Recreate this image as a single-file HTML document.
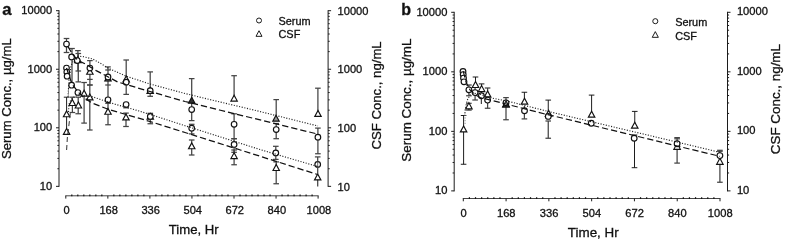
<!DOCTYPE html><html><head><meta charset="utf-8"><title>Figure</title><style>html,body{margin:0;padding:0;background:#fff}svg{display:block}</style></head><body><svg width="785" height="242" viewBox="0 0 785 242" font-family="Liberation Sans, sans-serif" fill="#111">
<rect width="785" height="242" fill="#fff"/>
<line x1="59.00" y1="10.20" x2="59.00" y2="186.85" stroke="#1c1c1c" stroke-width="1" />
<line x1="328.10" y1="10.20" x2="328.10" y2="186.85" stroke="#1c1c1c" stroke-width="1" />
<line x1="56.00" y1="10.70" x2="59.00" y2="10.70" stroke="#1c1c1c" stroke-width="1" />
<line x1="328.10" y1="10.70" x2="331.10" y2="10.70" stroke="#1c1c1c" stroke-width="1" />
<text x="52.20" y="14.30" font-size="11.1" text-anchor="end" font-weight="normal" stroke="#111" stroke-width="0.3" >10000</text>
<text x="337.60" y="14.90" font-size="11.1" text-anchor="start" font-weight="normal" stroke="#111" stroke-width="0.3" >10000</text>
<line x1="57.40" y1="51.62" x2="59.00" y2="51.62" stroke="#1c1c1c" stroke-width="1" />
<line x1="328.10" y1="51.62" x2="329.70" y2="51.62" stroke="#1c1c1c" stroke-width="1" />
<line x1="57.40" y1="41.31" x2="59.00" y2="41.31" stroke="#1c1c1c" stroke-width="1" />
<line x1="328.10" y1="41.31" x2="329.70" y2="41.31" stroke="#1c1c1c" stroke-width="1" />
<line x1="57.40" y1="34.00" x2="59.00" y2="34.00" stroke="#1c1c1c" stroke-width="1" />
<line x1="328.10" y1="34.00" x2="329.70" y2="34.00" stroke="#1c1c1c" stroke-width="1" />
<line x1="57.40" y1="28.33" x2="59.00" y2="28.33" stroke="#1c1c1c" stroke-width="1" />
<line x1="328.10" y1="28.33" x2="329.70" y2="28.33" stroke="#1c1c1c" stroke-width="1" />
<line x1="57.40" y1="23.69" x2="59.00" y2="23.69" stroke="#1c1c1c" stroke-width="1" />
<line x1="328.10" y1="23.69" x2="329.70" y2="23.69" stroke="#1c1c1c" stroke-width="1" />
<line x1="57.40" y1="19.77" x2="59.00" y2="19.77" stroke="#1c1c1c" stroke-width="1" />
<line x1="328.10" y1="19.77" x2="329.70" y2="19.77" stroke="#1c1c1c" stroke-width="1" />
<line x1="57.40" y1="16.37" x2="59.00" y2="16.37" stroke="#1c1c1c" stroke-width="1" />
<line x1="328.10" y1="16.37" x2="329.70" y2="16.37" stroke="#1c1c1c" stroke-width="1" />
<line x1="57.40" y1="13.38" x2="59.00" y2="13.38" stroke="#1c1c1c" stroke-width="1" />
<line x1="328.10" y1="13.38" x2="329.70" y2="13.38" stroke="#1c1c1c" stroke-width="1" />
<line x1="56.00" y1="69.25" x2="59.00" y2="69.25" stroke="#1c1c1c" stroke-width="1" />
<line x1="328.10" y1="69.25" x2="331.10" y2="69.25" stroke="#1c1c1c" stroke-width="1" />
<text x="52.20" y="72.85" font-size="11.1" text-anchor="end" font-weight="normal" stroke="#111" stroke-width="0.3" >1000</text>
<text x="337.60" y="73.45" font-size="11.1" text-anchor="start" font-weight="normal" stroke="#111" stroke-width="0.3" >1000</text>
<line x1="57.40" y1="110.17" x2="59.00" y2="110.17" stroke="#1c1c1c" stroke-width="1" />
<line x1="328.10" y1="110.17" x2="329.70" y2="110.17" stroke="#1c1c1c" stroke-width="1" />
<line x1="57.40" y1="99.86" x2="59.00" y2="99.86" stroke="#1c1c1c" stroke-width="1" />
<line x1="328.10" y1="99.86" x2="329.70" y2="99.86" stroke="#1c1c1c" stroke-width="1" />
<line x1="57.40" y1="92.55" x2="59.00" y2="92.55" stroke="#1c1c1c" stroke-width="1" />
<line x1="328.10" y1="92.55" x2="329.70" y2="92.55" stroke="#1c1c1c" stroke-width="1" />
<line x1="57.40" y1="86.88" x2="59.00" y2="86.88" stroke="#1c1c1c" stroke-width="1" />
<line x1="328.10" y1="86.88" x2="329.70" y2="86.88" stroke="#1c1c1c" stroke-width="1" />
<line x1="57.40" y1="82.24" x2="59.00" y2="82.24" stroke="#1c1c1c" stroke-width="1" />
<line x1="328.10" y1="82.24" x2="329.70" y2="82.24" stroke="#1c1c1c" stroke-width="1" />
<line x1="57.40" y1="78.32" x2="59.00" y2="78.32" stroke="#1c1c1c" stroke-width="1" />
<line x1="328.10" y1="78.32" x2="329.70" y2="78.32" stroke="#1c1c1c" stroke-width="1" />
<line x1="57.40" y1="74.92" x2="59.00" y2="74.92" stroke="#1c1c1c" stroke-width="1" />
<line x1="328.10" y1="74.92" x2="329.70" y2="74.92" stroke="#1c1c1c" stroke-width="1" />
<line x1="57.40" y1="71.93" x2="59.00" y2="71.93" stroke="#1c1c1c" stroke-width="1" />
<line x1="328.10" y1="71.93" x2="329.70" y2="71.93" stroke="#1c1c1c" stroke-width="1" />
<line x1="56.00" y1="127.80" x2="59.00" y2="127.80" stroke="#1c1c1c" stroke-width="1" />
<line x1="328.10" y1="127.80" x2="331.10" y2="127.80" stroke="#1c1c1c" stroke-width="1" />
<text x="52.20" y="131.40" font-size="11.1" text-anchor="end" font-weight="normal" stroke="#111" stroke-width="0.3" >100</text>
<text x="337.60" y="132.00" font-size="11.1" text-anchor="start" font-weight="normal" stroke="#111" stroke-width="0.3" >100</text>
<line x1="57.40" y1="168.72" x2="59.00" y2="168.72" stroke="#1c1c1c" stroke-width="1" />
<line x1="328.10" y1="168.72" x2="329.70" y2="168.72" stroke="#1c1c1c" stroke-width="1" />
<line x1="57.40" y1="158.41" x2="59.00" y2="158.41" stroke="#1c1c1c" stroke-width="1" />
<line x1="328.10" y1="158.41" x2="329.70" y2="158.41" stroke="#1c1c1c" stroke-width="1" />
<line x1="57.40" y1="151.10" x2="59.00" y2="151.10" stroke="#1c1c1c" stroke-width="1" />
<line x1="328.10" y1="151.10" x2="329.70" y2="151.10" stroke="#1c1c1c" stroke-width="1" />
<line x1="57.40" y1="145.43" x2="59.00" y2="145.43" stroke="#1c1c1c" stroke-width="1" />
<line x1="328.10" y1="145.43" x2="329.70" y2="145.43" stroke="#1c1c1c" stroke-width="1" />
<line x1="57.40" y1="140.79" x2="59.00" y2="140.79" stroke="#1c1c1c" stroke-width="1" />
<line x1="328.10" y1="140.79" x2="329.70" y2="140.79" stroke="#1c1c1c" stroke-width="1" />
<line x1="57.40" y1="136.87" x2="59.00" y2="136.87" stroke="#1c1c1c" stroke-width="1" />
<line x1="328.10" y1="136.87" x2="329.70" y2="136.87" stroke="#1c1c1c" stroke-width="1" />
<line x1="57.40" y1="133.47" x2="59.00" y2="133.47" stroke="#1c1c1c" stroke-width="1" />
<line x1="328.10" y1="133.47" x2="329.70" y2="133.47" stroke="#1c1c1c" stroke-width="1" />
<line x1="57.40" y1="130.48" x2="59.00" y2="130.48" stroke="#1c1c1c" stroke-width="1" />
<line x1="328.10" y1="130.48" x2="329.70" y2="130.48" stroke="#1c1c1c" stroke-width="1" />
<line x1="56.00" y1="186.35" x2="59.00" y2="186.35" stroke="#1c1c1c" stroke-width="1" />
<line x1="328.10" y1="186.35" x2="331.10" y2="186.35" stroke="#1c1c1c" stroke-width="1" />
<text x="52.20" y="189.95" font-size="11.1" text-anchor="end" font-weight="normal" stroke="#111" stroke-width="0.3" >10</text>
<text x="337.60" y="190.55" font-size="11.1" text-anchor="start" font-weight="normal" stroke="#111" stroke-width="0.3" >10</text>
<line x1="65.30" y1="195.80" x2="318.60" y2="195.80" stroke="#444" stroke-width="1" />
<line x1="65.80" y1="195.80" x2="65.80" y2="198.60" stroke="#1c1c1c" stroke-width="1" />
<text x="66.60" y="214.40" font-size="11.1" text-anchor="middle" font-weight="normal" stroke="#111" stroke-width="0.3" >0</text>
<line x1="71.81" y1="194.50" x2="71.81" y2="196.30" stroke="#111" stroke-width="1.2" />
<line x1="77.81" y1="194.50" x2="77.81" y2="196.30" stroke="#111" stroke-width="1.2" />
<line x1="83.82" y1="194.50" x2="83.82" y2="196.30" stroke="#111" stroke-width="1.2" />
<line x1="89.83" y1="194.50" x2="89.83" y2="196.30" stroke="#111" stroke-width="1.2" />
<line x1="95.84" y1="194.50" x2="95.84" y2="196.30" stroke="#111" stroke-width="1.2" />
<line x1="101.84" y1="194.50" x2="101.84" y2="196.30" stroke="#111" stroke-width="1.2" />
<line x1="107.85" y1="195.80" x2="107.85" y2="198.60" stroke="#1c1c1c" stroke-width="1" />
<text x="108.65" y="214.40" font-size="11.1" text-anchor="middle" font-weight="normal" stroke="#111" stroke-width="0.3" >168</text>
<line x1="113.86" y1="194.50" x2="113.86" y2="196.30" stroke="#111" stroke-width="1.2" />
<line x1="119.86" y1="194.50" x2="119.86" y2="196.30" stroke="#111" stroke-width="1.2" />
<line x1="125.87" y1="194.50" x2="125.87" y2="196.30" stroke="#111" stroke-width="1.2" />
<line x1="131.88" y1="194.50" x2="131.88" y2="196.30" stroke="#111" stroke-width="1.2" />
<line x1="137.89" y1="194.50" x2="137.89" y2="196.30" stroke="#111" stroke-width="1.2" />
<line x1="143.89" y1="194.50" x2="143.89" y2="196.30" stroke="#111" stroke-width="1.2" />
<line x1="149.90" y1="195.80" x2="149.90" y2="198.60" stroke="#1c1c1c" stroke-width="1" />
<text x="150.70" y="214.40" font-size="11.1" text-anchor="middle" font-weight="normal" stroke="#111" stroke-width="0.3" >336</text>
<line x1="155.91" y1="194.50" x2="155.91" y2="196.30" stroke="#111" stroke-width="1.2" />
<line x1="161.91" y1="194.50" x2="161.91" y2="196.30" stroke="#111" stroke-width="1.2" />
<line x1="167.92" y1="194.50" x2="167.92" y2="196.30" stroke="#111" stroke-width="1.2" />
<line x1="173.93" y1="194.50" x2="173.93" y2="196.30" stroke="#111" stroke-width="1.2" />
<line x1="179.94" y1="194.50" x2="179.94" y2="196.30" stroke="#111" stroke-width="1.2" />
<line x1="185.94" y1="194.50" x2="185.94" y2="196.30" stroke="#111" stroke-width="1.2" />
<line x1="191.95" y1="195.80" x2="191.95" y2="198.60" stroke="#1c1c1c" stroke-width="1" />
<text x="192.75" y="214.40" font-size="11.1" text-anchor="middle" font-weight="normal" stroke="#111" stroke-width="0.3" >504</text>
<line x1="197.96" y1="194.50" x2="197.96" y2="196.30" stroke="#111" stroke-width="1.2" />
<line x1="203.96" y1="194.50" x2="203.96" y2="196.30" stroke="#111" stroke-width="1.2" />
<line x1="209.97" y1="194.50" x2="209.97" y2="196.30" stroke="#111" stroke-width="1.2" />
<line x1="215.98" y1="194.50" x2="215.98" y2="196.30" stroke="#111" stroke-width="1.2" />
<line x1="221.99" y1="194.50" x2="221.99" y2="196.30" stroke="#111" stroke-width="1.2" />
<line x1="227.99" y1="194.50" x2="227.99" y2="196.30" stroke="#111" stroke-width="1.2" />
<line x1="234.00" y1="195.80" x2="234.00" y2="198.60" stroke="#1c1c1c" stroke-width="1" />
<text x="234.80" y="214.40" font-size="11.1" text-anchor="middle" font-weight="normal" stroke="#111" stroke-width="0.3" >672</text>
<line x1="240.01" y1="194.50" x2="240.01" y2="196.30" stroke="#111" stroke-width="1.2" />
<line x1="246.01" y1="194.50" x2="246.01" y2="196.30" stroke="#111" stroke-width="1.2" />
<line x1="252.02" y1="194.50" x2="252.02" y2="196.30" stroke="#111" stroke-width="1.2" />
<line x1="258.03" y1="194.50" x2="258.03" y2="196.30" stroke="#111" stroke-width="1.2" />
<line x1="264.04" y1="194.50" x2="264.04" y2="196.30" stroke="#111" stroke-width="1.2" />
<line x1="270.04" y1="194.50" x2="270.04" y2="196.30" stroke="#111" stroke-width="1.2" />
<line x1="276.05" y1="195.80" x2="276.05" y2="198.60" stroke="#1c1c1c" stroke-width="1" />
<text x="276.85" y="214.40" font-size="11.1" text-anchor="middle" font-weight="normal" stroke="#111" stroke-width="0.3" >840</text>
<line x1="282.06" y1="194.50" x2="282.06" y2="196.30" stroke="#111" stroke-width="1.2" />
<line x1="288.06" y1="194.50" x2="288.06" y2="196.30" stroke="#111" stroke-width="1.2" />
<line x1="294.07" y1="194.50" x2="294.07" y2="196.30" stroke="#111" stroke-width="1.2" />
<line x1="300.08" y1="194.50" x2="300.08" y2="196.30" stroke="#111" stroke-width="1.2" />
<line x1="306.09" y1="194.50" x2="306.09" y2="196.30" stroke="#111" stroke-width="1.2" />
<line x1="312.09" y1="194.50" x2="312.09" y2="196.30" stroke="#111" stroke-width="1.2" />
<line x1="318.10" y1="195.80" x2="318.10" y2="198.60" stroke="#1c1c1c" stroke-width="1" />
<text x="318.90" y="214.40" font-size="11.1" text-anchor="middle" font-weight="normal" stroke="#111" stroke-width="0.3" >1008</text>
<text x="193.75" y="233.60" font-size="13.15" text-anchor="middle" font-weight="normal" stroke="#111" stroke-width="0.3" >Time, Hr</text>
<text x="11.40" y="98.70" font-size="13.15" text-anchor="middle" font-weight="normal" stroke="#111" stroke-width="0.3" transform="rotate(-90 11.40 98.70)" >Serum Conc., µg/mL</text>
<text x="381.30" y="95.40" font-size="13.15" text-anchor="middle" font-weight="normal" stroke="#111" stroke-width="0.3" transform="rotate(-90 381.30 95.40)" >CSF Conc., ng/mL</text>
<text x="2.20" y="14.70" font-size="16.7" text-anchor="start" font-weight="bold" stroke="#111" stroke-width="0.3" >a</text>
<circle cx="259.00" cy="20.50" r="2.5" fill="#fff" stroke="#111" stroke-width="0.95"/>
<polygon points="259.00,30.74 256.00,36.34 262.00,36.34" fill="#fff" stroke="#111" stroke-width="0.95" stroke-linejoin="miter"/>
<text x="278.50" y="24.50" font-size="10.9" text-anchor="start" font-weight="normal" stroke="#111" stroke-width="0.3" >Serum</text>
<text x="278.50" y="38.00" font-size="10.9" text-anchor="start" font-weight="normal" stroke="#111" stroke-width="0.3" >CSF</text>
<line x1="454.20" y1="11.80" x2="454.20" y2="191.39" stroke="#1c1c1c" stroke-width="1" />
<line x1="727.50" y1="11.80" x2="727.50" y2="191.39" stroke="#1c1c1c" stroke-width="1" />
<line x1="451.20" y1="12.30" x2="454.20" y2="12.30" stroke="#1c1c1c" stroke-width="1" />
<line x1="727.50" y1="12.30" x2="730.50" y2="12.30" stroke="#1c1c1c" stroke-width="1" />
<text x="447.40" y="15.90" font-size="11.15" text-anchor="end" font-weight="normal" stroke="#111" stroke-width="0.3" >10000</text>
<text x="736.90" y="15.40" font-size="11.15" text-anchor="start" font-weight="normal" stroke="#111" stroke-width="0.3" >10000</text>
<line x1="452.60" y1="53.91" x2="454.20" y2="53.91" stroke="#1c1c1c" stroke-width="1" />
<line x1="727.50" y1="53.91" x2="729.10" y2="53.91" stroke="#1c1c1c" stroke-width="1" />
<line x1="452.60" y1="43.43" x2="454.20" y2="43.43" stroke="#1c1c1c" stroke-width="1" />
<line x1="727.50" y1="43.43" x2="729.10" y2="43.43" stroke="#1c1c1c" stroke-width="1" />
<line x1="452.60" y1="35.99" x2="454.20" y2="35.99" stroke="#1c1c1c" stroke-width="1" />
<line x1="727.50" y1="35.99" x2="729.10" y2="35.99" stroke="#1c1c1c" stroke-width="1" />
<line x1="452.60" y1="30.22" x2="454.20" y2="30.22" stroke="#1c1c1c" stroke-width="1" />
<line x1="727.50" y1="30.22" x2="729.10" y2="30.22" stroke="#1c1c1c" stroke-width="1" />
<line x1="452.60" y1="25.51" x2="454.20" y2="25.51" stroke="#1c1c1c" stroke-width="1" />
<line x1="727.50" y1="25.51" x2="729.10" y2="25.51" stroke="#1c1c1c" stroke-width="1" />
<line x1="452.60" y1="21.52" x2="454.20" y2="21.52" stroke="#1c1c1c" stroke-width="1" />
<line x1="727.50" y1="21.52" x2="729.10" y2="21.52" stroke="#1c1c1c" stroke-width="1" />
<line x1="452.60" y1="18.07" x2="454.20" y2="18.07" stroke="#1c1c1c" stroke-width="1" />
<line x1="727.50" y1="18.07" x2="729.10" y2="18.07" stroke="#1c1c1c" stroke-width="1" />
<line x1="452.60" y1="15.02" x2="454.20" y2="15.02" stroke="#1c1c1c" stroke-width="1" />
<line x1="727.50" y1="15.02" x2="729.10" y2="15.02" stroke="#1c1c1c" stroke-width="1" />
<line x1="451.20" y1="71.83" x2="454.20" y2="71.83" stroke="#1c1c1c" stroke-width="1" />
<line x1="727.50" y1="71.83" x2="730.50" y2="71.83" stroke="#1c1c1c" stroke-width="1" />
<text x="447.40" y="75.43" font-size="11.15" text-anchor="end" font-weight="normal" stroke="#111" stroke-width="0.3" >1000</text>
<text x="736.90" y="74.93" font-size="11.15" text-anchor="start" font-weight="normal" stroke="#111" stroke-width="0.3" >1000</text>
<line x1="452.60" y1="113.44" x2="454.20" y2="113.44" stroke="#1c1c1c" stroke-width="1" />
<line x1="727.50" y1="113.44" x2="729.10" y2="113.44" stroke="#1c1c1c" stroke-width="1" />
<line x1="452.60" y1="102.96" x2="454.20" y2="102.96" stroke="#1c1c1c" stroke-width="1" />
<line x1="727.50" y1="102.96" x2="729.10" y2="102.96" stroke="#1c1c1c" stroke-width="1" />
<line x1="452.60" y1="95.52" x2="454.20" y2="95.52" stroke="#1c1c1c" stroke-width="1" />
<line x1="727.50" y1="95.52" x2="729.10" y2="95.52" stroke="#1c1c1c" stroke-width="1" />
<line x1="452.60" y1="89.75" x2="454.20" y2="89.75" stroke="#1c1c1c" stroke-width="1" />
<line x1="727.50" y1="89.75" x2="729.10" y2="89.75" stroke="#1c1c1c" stroke-width="1" />
<line x1="452.60" y1="85.04" x2="454.20" y2="85.04" stroke="#1c1c1c" stroke-width="1" />
<line x1="727.50" y1="85.04" x2="729.10" y2="85.04" stroke="#1c1c1c" stroke-width="1" />
<line x1="452.60" y1="81.05" x2="454.20" y2="81.05" stroke="#1c1c1c" stroke-width="1" />
<line x1="727.50" y1="81.05" x2="729.10" y2="81.05" stroke="#1c1c1c" stroke-width="1" />
<line x1="452.60" y1="77.60" x2="454.20" y2="77.60" stroke="#1c1c1c" stroke-width="1" />
<line x1="727.50" y1="77.60" x2="729.10" y2="77.60" stroke="#1c1c1c" stroke-width="1" />
<line x1="452.60" y1="74.55" x2="454.20" y2="74.55" stroke="#1c1c1c" stroke-width="1" />
<line x1="727.50" y1="74.55" x2="729.10" y2="74.55" stroke="#1c1c1c" stroke-width="1" />
<line x1="451.20" y1="131.36" x2="454.20" y2="131.36" stroke="#1c1c1c" stroke-width="1" />
<line x1="727.50" y1="131.36" x2="730.50" y2="131.36" stroke="#1c1c1c" stroke-width="1" />
<text x="447.40" y="134.96" font-size="11.15" text-anchor="end" font-weight="normal" stroke="#111" stroke-width="0.3" >100</text>
<text x="736.90" y="134.46" font-size="11.15" text-anchor="start" font-weight="normal" stroke="#111" stroke-width="0.3" >100</text>
<line x1="452.60" y1="172.97" x2="454.20" y2="172.97" stroke="#1c1c1c" stroke-width="1" />
<line x1="727.50" y1="172.97" x2="729.10" y2="172.97" stroke="#1c1c1c" stroke-width="1" />
<line x1="452.60" y1="162.49" x2="454.20" y2="162.49" stroke="#1c1c1c" stroke-width="1" />
<line x1="727.50" y1="162.49" x2="729.10" y2="162.49" stroke="#1c1c1c" stroke-width="1" />
<line x1="452.60" y1="155.05" x2="454.20" y2="155.05" stroke="#1c1c1c" stroke-width="1" />
<line x1="727.50" y1="155.05" x2="729.10" y2="155.05" stroke="#1c1c1c" stroke-width="1" />
<line x1="452.60" y1="149.28" x2="454.20" y2="149.28" stroke="#1c1c1c" stroke-width="1" />
<line x1="727.50" y1="149.28" x2="729.10" y2="149.28" stroke="#1c1c1c" stroke-width="1" />
<line x1="452.60" y1="144.57" x2="454.20" y2="144.57" stroke="#1c1c1c" stroke-width="1" />
<line x1="727.50" y1="144.57" x2="729.10" y2="144.57" stroke="#1c1c1c" stroke-width="1" />
<line x1="452.60" y1="140.58" x2="454.20" y2="140.58" stroke="#1c1c1c" stroke-width="1" />
<line x1="727.50" y1="140.58" x2="729.10" y2="140.58" stroke="#1c1c1c" stroke-width="1" />
<line x1="452.60" y1="137.13" x2="454.20" y2="137.13" stroke="#1c1c1c" stroke-width="1" />
<line x1="727.50" y1="137.13" x2="729.10" y2="137.13" stroke="#1c1c1c" stroke-width="1" />
<line x1="452.60" y1="134.08" x2="454.20" y2="134.08" stroke="#1c1c1c" stroke-width="1" />
<line x1="727.50" y1="134.08" x2="729.10" y2="134.08" stroke="#1c1c1c" stroke-width="1" />
<line x1="451.20" y1="190.89" x2="454.20" y2="190.89" stroke="#1c1c1c" stroke-width="1" />
<line x1="727.50" y1="190.89" x2="730.50" y2="190.89" stroke="#1c1c1c" stroke-width="1" />
<text x="447.40" y="194.49" font-size="11.15" text-anchor="end" font-weight="normal" stroke="#111" stroke-width="0.3" >10</text>
<text x="736.90" y="193.99" font-size="11.15" text-anchor="start" font-weight="normal" stroke="#111" stroke-width="0.3" >10</text>
<line x1="462.80" y1="198.50" x2="720.50" y2="198.50" stroke="#444" stroke-width="1" />
<line x1="463.30" y1="198.50" x2="463.30" y2="201.30" stroke="#1c1c1c" stroke-width="1" />
<text x="463.50" y="216.90" font-size="11.15" text-anchor="middle" font-weight="normal" stroke="#111" stroke-width="0.3" >0</text>
<line x1="469.41" y1="197.20" x2="469.41" y2="199.00" stroke="#111" stroke-width="1.2" />
<line x1="475.52" y1="197.20" x2="475.52" y2="199.00" stroke="#111" stroke-width="1.2" />
<line x1="481.64" y1="197.20" x2="481.64" y2="199.00" stroke="#111" stroke-width="1.2" />
<line x1="487.75" y1="197.20" x2="487.75" y2="199.00" stroke="#111" stroke-width="1.2" />
<line x1="493.86" y1="197.20" x2="493.86" y2="199.00" stroke="#111" stroke-width="1.2" />
<line x1="499.97" y1="197.20" x2="499.97" y2="199.00" stroke="#111" stroke-width="1.2" />
<line x1="506.08" y1="198.50" x2="506.08" y2="201.30" stroke="#1c1c1c" stroke-width="1" />
<text x="506.28" y="216.90" font-size="11.15" text-anchor="middle" font-weight="normal" stroke="#111" stroke-width="0.3" >168</text>
<line x1="512.20" y1="197.20" x2="512.20" y2="199.00" stroke="#111" stroke-width="1.2" />
<line x1="518.31" y1="197.20" x2="518.31" y2="199.00" stroke="#111" stroke-width="1.2" />
<line x1="524.42" y1="197.20" x2="524.42" y2="199.00" stroke="#111" stroke-width="1.2" />
<line x1="530.53" y1="197.20" x2="530.53" y2="199.00" stroke="#111" stroke-width="1.2" />
<line x1="536.64" y1="197.20" x2="536.64" y2="199.00" stroke="#111" stroke-width="1.2" />
<line x1="542.75" y1="197.20" x2="542.75" y2="199.00" stroke="#111" stroke-width="1.2" />
<line x1="548.87" y1="198.50" x2="548.87" y2="201.30" stroke="#1c1c1c" stroke-width="1" />
<text x="549.07" y="216.90" font-size="11.15" text-anchor="middle" font-weight="normal" stroke="#111" stroke-width="0.3" >336</text>
<line x1="554.98" y1="197.20" x2="554.98" y2="199.00" stroke="#111" stroke-width="1.2" />
<line x1="561.09" y1="197.20" x2="561.09" y2="199.00" stroke="#111" stroke-width="1.2" />
<line x1="567.20" y1="197.20" x2="567.20" y2="199.00" stroke="#111" stroke-width="1.2" />
<line x1="573.31" y1="197.20" x2="573.31" y2="199.00" stroke="#111" stroke-width="1.2" />
<line x1="579.43" y1="197.20" x2="579.43" y2="199.00" stroke="#111" stroke-width="1.2" />
<line x1="585.54" y1="197.20" x2="585.54" y2="199.00" stroke="#111" stroke-width="1.2" />
<line x1="591.65" y1="198.50" x2="591.65" y2="201.30" stroke="#1c1c1c" stroke-width="1" />
<text x="591.85" y="216.90" font-size="11.15" text-anchor="middle" font-weight="normal" stroke="#111" stroke-width="0.3" >504</text>
<line x1="597.76" y1="197.20" x2="597.76" y2="199.00" stroke="#111" stroke-width="1.2" />
<line x1="603.87" y1="197.20" x2="603.87" y2="199.00" stroke="#111" stroke-width="1.2" />
<line x1="609.99" y1="197.20" x2="609.99" y2="199.00" stroke="#111" stroke-width="1.2" />
<line x1="616.10" y1="197.20" x2="616.10" y2="199.00" stroke="#111" stroke-width="1.2" />
<line x1="622.21" y1="197.20" x2="622.21" y2="199.00" stroke="#111" stroke-width="1.2" />
<line x1="628.32" y1="197.20" x2="628.32" y2="199.00" stroke="#111" stroke-width="1.2" />
<line x1="634.43" y1="198.50" x2="634.43" y2="201.30" stroke="#1c1c1c" stroke-width="1" />
<text x="634.63" y="216.90" font-size="11.15" text-anchor="middle" font-weight="normal" stroke="#111" stroke-width="0.3" >672</text>
<line x1="640.55" y1="197.20" x2="640.55" y2="199.00" stroke="#111" stroke-width="1.2" />
<line x1="646.66" y1="197.20" x2="646.66" y2="199.00" stroke="#111" stroke-width="1.2" />
<line x1="652.77" y1="197.20" x2="652.77" y2="199.00" stroke="#111" stroke-width="1.2" />
<line x1="658.88" y1="197.20" x2="658.88" y2="199.00" stroke="#111" stroke-width="1.2" />
<line x1="664.99" y1="197.20" x2="664.99" y2="199.00" stroke="#111" stroke-width="1.2" />
<line x1="671.10" y1="197.20" x2="671.10" y2="199.00" stroke="#111" stroke-width="1.2" />
<line x1="677.22" y1="198.50" x2="677.22" y2="201.30" stroke="#1c1c1c" stroke-width="1" />
<text x="677.42" y="216.90" font-size="11.15" text-anchor="middle" font-weight="normal" stroke="#111" stroke-width="0.3" >840</text>
<line x1="683.33" y1="197.20" x2="683.33" y2="199.00" stroke="#111" stroke-width="1.2" />
<line x1="689.44" y1="197.20" x2="689.44" y2="199.00" stroke="#111" stroke-width="1.2" />
<line x1="695.55" y1="197.20" x2="695.55" y2="199.00" stroke="#111" stroke-width="1.2" />
<line x1="701.66" y1="197.20" x2="701.66" y2="199.00" stroke="#111" stroke-width="1.2" />
<line x1="707.78" y1="197.20" x2="707.78" y2="199.00" stroke="#111" stroke-width="1.2" />
<line x1="713.89" y1="197.20" x2="713.89" y2="199.00" stroke="#111" stroke-width="1.2" />
<line x1="720.00" y1="198.50" x2="720.00" y2="201.30" stroke="#1c1c1c" stroke-width="1" />
<text x="720.20" y="216.90" font-size="11.15" text-anchor="middle" font-weight="normal" stroke="#111" stroke-width="0.3" >1008</text>
<text x="593.25" y="237.20" font-size="13.4" text-anchor="middle" font-weight="normal" stroke="#111" stroke-width="0.3" >Time, Hr</text>
<text x="411.20" y="100.10" font-size="13.4" text-anchor="middle" font-weight="normal" stroke="#111" stroke-width="0.3" transform="rotate(-90 411.20 100.10)" >Serum Conc., µg/mL</text>
<text x="779.60" y="99.10" font-size="13.4" text-anchor="middle" font-weight="normal" stroke="#111" stroke-width="0.3" transform="rotate(-90 779.60 99.10)" >CSF Conc., ng/mL</text>
<text x="401.30" y="14.60" font-size="16.0" text-anchor="start" font-weight="bold" stroke="#111" stroke-width="0.3" >b</text>
<circle cx="655.30" cy="21.20" r="2.545" fill="#fff" stroke="#111" stroke-width="0.95"/>
<polygon points="655.30,31.62 652.25,37.33 658.35,37.33" fill="#fff" stroke="#111" stroke-width="0.95" stroke-linejoin="miter"/>
<text x="675.15" y="25.77" font-size="10.9" text-anchor="start" font-weight="normal" stroke="#111" stroke-width="0.3" >Serum</text>
<text x="675.15" y="39.52" font-size="10.9" text-anchor="start" font-weight="normal" stroke="#111" stroke-width="0.3" >CSF</text>
<line x1="66.50" y1="38.50" x2="66.50" y2="52.50" stroke="#444" stroke-width="1.25" />
<line x1="63.70" y1="38.50" x2="69.30" y2="38.50" stroke="#444" stroke-width="1.25" />
<line x1="63.70" y1="52.50" x2="69.30" y2="52.50" stroke="#444" stroke-width="1.25" />
<line x1="72.00" y1="48.50" x2="72.00" y2="85.00" stroke="#444" stroke-width="1.25" />
<line x1="69.20" y1="48.50" x2="74.80" y2="48.50" stroke="#444" stroke-width="1.25" />
<line x1="69.20" y1="85.00" x2="74.80" y2="85.00" stroke="#444" stroke-width="1.25" />
<line x1="77.90" y1="50.60" x2="77.90" y2="71.00" stroke="#444" stroke-width="1.25" />
<line x1="75.10" y1="50.60" x2="80.70" y2="50.60" stroke="#444" stroke-width="1.25" />
<line x1="78.30" y1="53.50" x2="78.30" y2="81.90" stroke="#444" stroke-width="1.25" />
<line x1="75.50" y1="53.50" x2="81.10" y2="53.50" stroke="#444" stroke-width="1.25" />
<line x1="75.50" y1="81.90" x2="81.10" y2="81.90" stroke="#444" stroke-width="1.25" />
<line x1="78.30" y1="71.00" x2="78.30" y2="71.00" stroke="#444" stroke-width="1.25" />
<line x1="75.50" y1="71.00" x2="81.10" y2="71.00" stroke="#444" stroke-width="1.25" />
<line x1="89.90" y1="60.60" x2="89.90" y2="85.00" stroke="#444" stroke-width="1.25" />
<line x1="87.10" y1="60.60" x2="92.70" y2="60.60" stroke="#444" stroke-width="1.25" />
<line x1="87.10" y1="85.00" x2="92.70" y2="85.00" stroke="#444" stroke-width="1.25" />
<line x1="89.90" y1="79.40" x2="89.90" y2="79.40" stroke="#444" stroke-width="1.25" />
<line x1="87.10" y1="79.40" x2="92.70" y2="79.40" stroke="#444" stroke-width="1.25" />
<line x1="108.00" y1="66.90" x2="108.00" y2="85.00" stroke="#444" stroke-width="1.25" />
<line x1="105.20" y1="66.90" x2="110.80" y2="66.90" stroke="#444" stroke-width="1.25" />
<line x1="105.20" y1="85.00" x2="110.80" y2="85.00" stroke="#444" stroke-width="1.25" />
<line x1="108.00" y1="70.00" x2="108.00" y2="70.00" stroke="#444" stroke-width="1.25" />
<line x1="105.20" y1="70.00" x2="110.80" y2="70.00" stroke="#444" stroke-width="1.25" />
<line x1="108.00" y1="80.60" x2="108.00" y2="80.60" stroke="#444" stroke-width="1.25" />
<line x1="105.20" y1="80.60" x2="110.80" y2="80.60" stroke="#444" stroke-width="1.25" />
<line x1="126.20" y1="60.00" x2="126.20" y2="94.40" stroke="#444" stroke-width="1.25" />
<line x1="123.40" y1="60.00" x2="129.00" y2="60.00" stroke="#444" stroke-width="1.25" />
<line x1="123.40" y1="94.40" x2="129.00" y2="94.40" stroke="#444" stroke-width="1.25" />
<line x1="150.20" y1="71.90" x2="150.20" y2="96.30" stroke="#444" stroke-width="1.25" />
<line x1="147.40" y1="71.90" x2="153.00" y2="71.90" stroke="#444" stroke-width="1.25" />
<line x1="147.40" y1="96.30" x2="153.00" y2="96.30" stroke="#444" stroke-width="1.25" />
<line x1="191.70" y1="78.60" x2="191.70" y2="120.60" stroke="#444" stroke-width="1.25" />
<line x1="188.90" y1="78.60" x2="194.50" y2="78.60" stroke="#444" stroke-width="1.25" />
<line x1="188.90" y1="120.60" x2="194.50" y2="120.60" stroke="#444" stroke-width="1.25" />
<line x1="234.10" y1="75.70" x2="234.10" y2="98.70" stroke="#444" stroke-width="1.25" />
<line x1="231.30" y1="75.70" x2="236.90" y2="75.70" stroke="#444" stroke-width="1.25" />
<line x1="234.10" y1="113.80" x2="234.10" y2="138.70" stroke="#444" stroke-width="1.25" />
<line x1="231.30" y1="113.80" x2="236.90" y2="113.80" stroke="#444" stroke-width="1.25" />
<line x1="231.30" y1="138.70" x2="236.90" y2="138.70" stroke="#444" stroke-width="1.25" />
<line x1="276.20" y1="99.60" x2="276.20" y2="118.00" stroke="#444" stroke-width="1.25" />
<line x1="273.40" y1="99.60" x2="279.00" y2="99.60" stroke="#444" stroke-width="1.25" />
<line x1="276.20" y1="123.50" x2="276.20" y2="138.70" stroke="#444" stroke-width="1.25" />
<line x1="273.40" y1="123.50" x2="279.00" y2="123.50" stroke="#444" stroke-width="1.25" />
<line x1="273.40" y1="138.70" x2="279.00" y2="138.70" stroke="#444" stroke-width="1.25" />
<line x1="317.90" y1="88.20" x2="317.90" y2="113.00" stroke="#444" stroke-width="1.25" />
<line x1="315.10" y1="88.20" x2="320.70" y2="88.20" stroke="#444" stroke-width="1.25" />
<line x1="317.90" y1="128.10" x2="317.90" y2="153.75" stroke="#444" stroke-width="1.25" />
<line x1="315.10" y1="128.10" x2="320.70" y2="128.10" stroke="#444" stroke-width="1.25" />
<line x1="315.10" y1="153.75" x2="320.70" y2="153.75" stroke="#444" stroke-width="1.25" />
<line x1="66.60" y1="97.20" x2="66.60" y2="132.00" stroke="#111" stroke-width="0.95" />
<line x1="63.80" y1="97.20" x2="69.40" y2="97.20" stroke="#111" stroke-width="0.95" />
<line x1="72.40" y1="97.20" x2="72.40" y2="112.50" stroke="#444" stroke-width="1.25" />
<line x1="69.60" y1="97.20" x2="75.20" y2="97.20" stroke="#444" stroke-width="1.25" />
<line x1="69.60" y1="112.50" x2="75.20" y2="112.50" stroke="#444" stroke-width="1.25" />
<line x1="78.20" y1="97.20" x2="78.20" y2="113.75" stroke="#444" stroke-width="1.25" />
<line x1="75.40" y1="97.20" x2="81.00" y2="97.20" stroke="#444" stroke-width="1.25" />
<line x1="75.40" y1="113.75" x2="81.00" y2="113.75" stroke="#444" stroke-width="1.25" />
<line x1="84.10" y1="82.50" x2="84.10" y2="123.10" stroke="#444" stroke-width="1.25" />
<line x1="81.30" y1="82.50" x2="86.90" y2="82.50" stroke="#444" stroke-width="1.25" />
<line x1="81.30" y1="123.10" x2="86.90" y2="123.10" stroke="#444" stroke-width="1.25" />
<line x1="89.80" y1="85.00" x2="89.80" y2="130.00" stroke="#444" stroke-width="1.25" />
<line x1="87.00" y1="85.00" x2="92.60" y2="85.00" stroke="#444" stroke-width="1.25" />
<line x1="87.00" y1="130.00" x2="92.60" y2="130.00" stroke="#444" stroke-width="1.25" />
<line x1="108.00" y1="85.00" x2="108.00" y2="97.00" stroke="#444" stroke-width="1.25" />
<line x1="108.00" y1="103.30" x2="108.00" y2="124.75" stroke="#444" stroke-width="1.25" />
<line x1="105.20" y1="103.30" x2="110.80" y2="103.30" stroke="#444" stroke-width="1.25" />
<line x1="105.20" y1="124.75" x2="110.80" y2="124.75" stroke="#444" stroke-width="1.25" />
<line x1="126.00" y1="105.00" x2="126.00" y2="107.80" stroke="#444" stroke-width="1.25" />
<line x1="123.20" y1="107.80" x2="128.80" y2="107.80" stroke="#444" stroke-width="1.25" />
<line x1="126.00" y1="113.10" x2="126.00" y2="126.50" stroke="#444" stroke-width="1.25" />
<line x1="123.20" y1="113.10" x2="128.80" y2="113.10" stroke="#444" stroke-width="1.25" />
<line x1="123.20" y1="126.50" x2="128.80" y2="126.50" stroke="#444" stroke-width="1.25" />
<line x1="150.30" y1="113.30" x2="150.30" y2="123.75" stroke="#444" stroke-width="1.25" />
<line x1="147.50" y1="113.30" x2="153.10" y2="113.30" stroke="#444" stroke-width="1.25" />
<line x1="147.50" y1="123.75" x2="153.10" y2="123.75" stroke="#444" stroke-width="1.25" />
<line x1="191.70" y1="124.30" x2="191.70" y2="133.90" stroke="#444" stroke-width="1.25" />
<line x1="188.90" y1="124.30" x2="194.50" y2="124.30" stroke="#444" stroke-width="1.25" />
<line x1="188.90" y1="133.90" x2="194.50" y2="133.90" stroke="#444" stroke-width="1.25" />
<line x1="191.70" y1="140.00" x2="191.70" y2="155.00" stroke="#444" stroke-width="1.25" />
<line x1="188.90" y1="140.00" x2="194.50" y2="140.00" stroke="#444" stroke-width="1.25" />
<line x1="188.90" y1="155.00" x2="194.50" y2="155.00" stroke="#444" stroke-width="1.25" />
<line x1="234.10" y1="138.70" x2="234.10" y2="164.75" stroke="#444" stroke-width="1.25" />
<line x1="231.30" y1="138.70" x2="236.90" y2="138.70" stroke="#444" stroke-width="1.25" />
<line x1="231.30" y1="164.75" x2="236.90" y2="164.75" stroke="#444" stroke-width="1.25" />
<line x1="234.10" y1="150.00" x2="234.10" y2="152.30" stroke="#444" stroke-width="1.25" />
<line x1="231.30" y1="150.00" x2="236.90" y2="150.00" stroke="#444" stroke-width="1.25" />
<line x1="231.30" y1="152.30" x2="236.90" y2="152.30" stroke="#444" stroke-width="1.25" />
<line x1="275.80" y1="146.30" x2="275.80" y2="159.40" stroke="#444" stroke-width="1.25" />
<line x1="273.00" y1="146.30" x2="278.60" y2="146.30" stroke="#444" stroke-width="1.25" />
<line x1="273.00" y1="159.40" x2="278.60" y2="159.40" stroke="#444" stroke-width="1.25" />
<line x1="276.20" y1="161.90" x2="276.20" y2="183.75" stroke="#444" stroke-width="1.25" />
<line x1="273.40" y1="161.90" x2="279.00" y2="161.90" stroke="#444" stroke-width="1.25" />
<line x1="273.40" y1="183.75" x2="279.00" y2="183.75" stroke="#444" stroke-width="1.25" />
<line x1="317.70" y1="156.90" x2="317.70" y2="164.00" stroke="#444" stroke-width="1.25" />
<line x1="314.90" y1="156.90" x2="320.50" y2="156.90" stroke="#444" stroke-width="1.25" />
<line x1="314.90" y1="164.00" x2="320.50" y2="164.00" stroke="#444" stroke-width="1.25" />
<line x1="317.70" y1="177.00" x2="317.70" y2="186.40" stroke="#444" stroke-width="1.25" />
<polygon points="77.90,56.86 74.70,62.76 81.10,62.76" fill="#fff" stroke="#111" stroke-width="1.15" stroke-linejoin="miter"/>
<polygon points="89.90,68.36 86.70,74.26 93.10,74.26" fill="#fff" stroke="#111" stroke-width="1.15" stroke-linejoin="miter"/>
<polygon points="108.00,74.96 104.80,80.86 111.20,80.86" fill="#fff" stroke="#111" stroke-width="1.15" stroke-linejoin="miter"/>
<polygon points="126.20,76.06 123.00,81.96 129.40,81.96" fill="#fff" stroke="#111" stroke-width="1.15" stroke-linejoin="miter"/>
<polygon points="150.20,87.46 147.00,93.36 153.40,93.36" fill="#fff" stroke="#111" stroke-width="1.15" stroke-linejoin="miter"/>
<polygon points="191.70,97.26 188.50,103.16 194.90,103.16" fill="#333" stroke="#111" stroke-width="1.15" stroke-linejoin="miter"/>
<polygon points="234.10,95.16 230.90,101.06 237.30,101.06" fill="#fff" stroke="#111" stroke-width="1.15" stroke-linejoin="miter"/>
<polygon points="276.00,115.26 272.80,121.16 279.20,121.16" fill="#999" stroke="#111" stroke-width="1.15" stroke-linejoin="miter"/>
<polygon points="318.00,110.46 314.80,116.36 321.20,116.36" fill="#fff" stroke="#111" stroke-width="1.15" stroke-linejoin="miter"/>
<polygon points="66.60,110.86 63.40,116.76 69.80,116.76" fill="#fff" stroke="#111" stroke-width="1.15" stroke-linejoin="miter"/>
<polygon points="66.60,128.46 63.40,134.36 69.80,134.36" fill="#fff" stroke="#111" stroke-width="1.15" stroke-linejoin="miter"/>
<polygon points="72.30,99.56 69.10,105.46 75.50,105.46" fill="#fff" stroke="#111" stroke-width="1.15" stroke-linejoin="miter"/>
<polygon points="78.40,102.06 75.20,107.96 81.60,107.96" fill="#fff" stroke="#111" stroke-width="1.15" stroke-linejoin="miter"/>
<polygon points="84.10,90.21 80.90,96.11 87.30,96.11" fill="#fff" stroke="#111" stroke-width="1.15" stroke-linejoin="miter"/>
<polygon points="89.80,93.96 86.60,99.86 93.00,99.86" fill="#fff" stroke="#111" stroke-width="1.15" stroke-linejoin="miter"/>
<polygon points="108.00,108.36 104.80,114.26 111.20,114.26" fill="#fff" stroke="#111" stroke-width="1.15" stroke-linejoin="miter"/>
<polygon points="126.00,113.96 122.80,119.86 129.20,119.86" fill="#fff" stroke="#111" stroke-width="1.15" stroke-linejoin="miter"/>
<polygon points="150.30,113.36 147.10,119.26 153.50,119.26" fill="#fff" stroke="#111" stroke-width="1.15" stroke-linejoin="miter"/>
<polygon points="191.75,142.86 188.55,148.76 194.95,148.76" fill="#fff" stroke="#111" stroke-width="1.15" stroke-linejoin="miter"/>
<polygon points="234.10,152.66 230.90,158.56 237.30,158.56" fill="#fff" stroke="#111" stroke-width="1.15" stroke-linejoin="miter"/>
<polygon points="276.20,164.56 273.00,170.46 279.40,170.46" fill="#fff" stroke="#111" stroke-width="1.15" stroke-linejoin="miter"/>
<polygon points="317.70,173.96 314.50,179.86 320.90,179.86" fill="#fff" stroke="#111" stroke-width="1.15" stroke-linejoin="miter"/>
<circle cx="66.50" cy="44.00" r="2.8" fill="#fff" stroke="#111" stroke-width="1.15"/>
<circle cx="71.60" cy="56.90" r="2.8" fill="#fff" stroke="#111" stroke-width="1.15"/>
<circle cx="77.30" cy="60.50" r="2.8" fill="#fff" stroke="#111" stroke-width="1.15"/>
<circle cx="89.90" cy="68.10" r="2.8" fill="#fff" stroke="#111" stroke-width="1.15"/>
<circle cx="108.00" cy="76.90" r="2.8" fill="#fff" stroke="#111" stroke-width="1.15"/>
<circle cx="126.20" cy="82.20" r="2.8" fill="#fff" stroke="#111" stroke-width="1.15"/>
<circle cx="150.20" cy="90.70" r="2.8" fill="#fff" stroke="#111" stroke-width="1.15"/>
<circle cx="191.70" cy="109.60" r="2.8" fill="#fff" stroke="#111" stroke-width="1.15"/>
<circle cx="234.10" cy="124.30" r="2.8" fill="#fff" stroke="#111" stroke-width="1.15"/>
<circle cx="276.20" cy="129.50" r="2.8" fill="#fff" stroke="#111" stroke-width="1.15"/>
<circle cx="317.90" cy="137.20" r="2.8" fill="#fff" stroke="#111" stroke-width="1.15"/>
<circle cx="66.50" cy="68.00" r="2.8" fill="#fff" stroke="#111" stroke-width="1.15"/>
<circle cx="66.80" cy="72.00" r="2.8" fill="#fff" stroke="#111" stroke-width="1.15"/>
<circle cx="67.10" cy="76.20" r="2.8" fill="#fff" stroke="#111" stroke-width="1.15"/>
<circle cx="71.60" cy="85.20" r="2.8" fill="#fff" stroke="#111" stroke-width="1.15"/>
<circle cx="77.90" cy="92.50" r="2.8" fill="#fff" stroke="#111" stroke-width="1.15"/>
<circle cx="108.00" cy="99.80" r="2.8" fill="#fff" stroke="#111" stroke-width="1.15"/>
<circle cx="126.10" cy="104.50" r="2.8" fill="#fff" stroke="#111" stroke-width="1.15"/>
<circle cx="150.30" cy="116.40" r="2.8" fill="#fff" stroke="#111" stroke-width="1.15"/>
<circle cx="191.70" cy="128.20" r="2.8" fill="#fff" stroke="#111" stroke-width="1.15"/>
<circle cx="234.10" cy="144.40" r="2.8" fill="#fff" stroke="#111" stroke-width="1.15"/>
<circle cx="275.80" cy="152.90" r="2.8" fill="#fff" stroke="#111" stroke-width="1.15"/>
<circle cx="317.70" cy="164.40" r="2.8" fill="#fff" stroke="#111" stroke-width="1.15"/>
<line x1="317.70" y1="166.00" x2="317.70" y2="174.00" stroke="#444" stroke-width="1.25" />
<line x1="317.70" y1="161.00" x2="317.70" y2="168.00" stroke="#444" stroke-width="0.8" />
<path d="M68.00 97.00 L69.00 80.00 L71.00 66.00 L74.00 59.00 L78.00 56.20 L84.00 56.80 L92.50 58.90 L100.00 63.00 L108.10 68.10 L126.20 76.20 L150.00 84.00 L185.00 93.50 L210.00 99.60 L253.80 110.00 L318.00 126.00" fill="none" stroke="#222" stroke-width="1.15" stroke-dasharray="1.1 1.6" stroke-dashoffset="0"/>
<path d="M66.50 44.00 L72.00 53.50 L78.00 60.50 L85.00 63.80 L96.20 70.60 L117.50 81.90 L126.00 84.50 L150.00 91.50 L185.00 101.50 L219.40 110.00 L317.50 134.00" fill="none" stroke="#111" stroke-width="1.25" stroke-dasharray="6.3 3" stroke-dashoffset="6.3"/>
<path d="M68.50 112.00 L69.00 104.00 L71.00 99.50 L75.00 96.20 L80.00 94.80 L92.20 96.70 L106.00 101.30 L116.00 104.50 L136.00 110.10 L150.00 114.40 L185.00 125.70 L261.50 150.00 L317.50 166.50" fill="none" stroke="#222" stroke-width="1.15" stroke-dasharray="1.1 1.6" stroke-dashoffset="0"/>
<path d="M68.50 95.60 L68.50 87.00" fill="none" stroke="#777" stroke-width="1" stroke-dasharray="1.1 1.6" stroke-dashoffset="0"/>
<path d="M66.50 68.00 L72.00 84.00 L78.00 91.80 L84.00 97.80 L92.20 103.10 L108.50 109.40 L150.00 121.50 L185.00 132.50 L240.40 150.00 L317.50 174.50" fill="none" stroke="#111" stroke-width="1.25" stroke-dasharray="6.3 3" stroke-dashoffset="0"/>
<path d="M66.60 150.00 L67.40 137.00 L68.50 128.70 L70.40 112.50" fill="none" stroke="#333" stroke-width="1" stroke-dasharray="5 3" stroke-dashoffset="0"/>
<line x1="475.50" y1="77.00" x2="475.50" y2="85.00" stroke="#111" stroke-width="0.95" />
<line x1="472.70" y1="77.00" x2="478.30" y2="77.00" stroke="#111" stroke-width="0.95" />
<line x1="481.60" y1="83.90" x2="481.60" y2="89.00" stroke="#111" stroke-width="0.95" />
<line x1="478.80" y1="83.90" x2="484.40" y2="83.90" stroke="#111" stroke-width="0.95" />
<line x1="487.60" y1="88.00" x2="487.60" y2="108.25" stroke="#444" stroke-width="1.25" />
<line x1="484.80" y1="88.00" x2="490.40" y2="88.00" stroke="#444" stroke-width="1.25" />
<line x1="484.80" y1="108.25" x2="490.40" y2="108.25" stroke="#444" stroke-width="1.25" />
<line x1="468.90" y1="85.00" x2="468.90" y2="95.75" stroke="#444" stroke-width="1.25" />
<line x1="466.10" y1="85.00" x2="471.70" y2="85.00" stroke="#444" stroke-width="1.25" />
<line x1="466.10" y1="95.75" x2="471.70" y2="95.75" stroke="#444" stroke-width="1.25" />
<line x1="475.10" y1="88.00" x2="475.10" y2="100.00" stroke="#444" stroke-width="1.25" />
<line x1="472.30" y1="100.00" x2="477.90" y2="100.00" stroke="#444" stroke-width="1.25" />
<line x1="481.40" y1="92.00" x2="481.40" y2="104.00" stroke="#444" stroke-width="1.25" />
<line x1="468.90" y1="103.25" x2="468.90" y2="110.10" stroke="#111" stroke-width="0.95" />
<line x1="466.10" y1="103.25" x2="471.70" y2="103.25" stroke="#111" stroke-width="0.95" />
<line x1="466.10" y1="110.10" x2="471.70" y2="110.10" stroke="#111" stroke-width="0.95" />
<line x1="463.60" y1="115.50" x2="463.60" y2="164.25" stroke="#111" stroke-width="0.95" />
<line x1="460.80" y1="115.50" x2="466.40" y2="115.50" stroke="#111" stroke-width="0.95" />
<line x1="460.80" y1="164.25" x2="466.40" y2="164.25" stroke="#111" stroke-width="0.95" />
<line x1="506.00" y1="97.60" x2="506.00" y2="119.75" stroke="#444" stroke-width="1.25" />
<line x1="503.20" y1="97.60" x2="508.80" y2="97.60" stroke="#444" stroke-width="1.25" />
<line x1="503.20" y1="119.75" x2="508.80" y2="119.75" stroke="#444" stroke-width="1.25" />
<line x1="524.40" y1="92.25" x2="524.40" y2="101.00" stroke="#111" stroke-width="0.95" />
<line x1="521.60" y1="92.25" x2="527.20" y2="92.25" stroke="#111" stroke-width="0.95" />
<line x1="524.40" y1="106.00" x2="524.40" y2="118.90" stroke="#444" stroke-width="1.25" />
<line x1="521.60" y1="118.90" x2="527.20" y2="118.90" stroke="#444" stroke-width="1.25" />
<line x1="548.25" y1="100.10" x2="548.25" y2="113.00" stroke="#111" stroke-width="0.95" />
<line x1="545.45" y1="100.10" x2="551.05" y2="100.10" stroke="#111" stroke-width="0.95" />
<line x1="548.25" y1="121.00" x2="548.25" y2="138.25" stroke="#444" stroke-width="1.25" />
<line x1="545.45" y1="121.00" x2="551.05" y2="121.00" stroke="#444" stroke-width="1.25" />
<line x1="545.45" y1="138.25" x2="551.05" y2="138.25" stroke="#444" stroke-width="1.25" />
<line x1="591.60" y1="95.10" x2="591.60" y2="114.00" stroke="#111" stroke-width="0.95" />
<line x1="588.80" y1="95.10" x2="594.40" y2="95.10" stroke="#111" stroke-width="0.95" />
<line x1="634.75" y1="111.40" x2="634.75" y2="125.00" stroke="#111" stroke-width="0.95" />
<line x1="631.95" y1="111.40" x2="637.55" y2="111.40" stroke="#111" stroke-width="0.95" />
<line x1="634.50" y1="138.50" x2="634.50" y2="167.70" stroke="#111" stroke-width="0.95" />
<line x1="631.70" y1="167.70" x2="637.30" y2="167.70" stroke="#111" stroke-width="0.95" />
<line x1="634.50" y1="135.00" x2="634.50" y2="135.00" stroke="#444" stroke-width="1.25" />
<line x1="631.70" y1="135.00" x2="637.30" y2="135.00" stroke="#444" stroke-width="1.25" />
<line x1="677.10" y1="137.60" x2="677.10" y2="163.10" stroke="#444" stroke-width="1.25" />
<line x1="674.30" y1="137.60" x2="679.90" y2="137.60" stroke="#444" stroke-width="1.25" />
<line x1="674.30" y1="163.10" x2="679.90" y2="163.10" stroke="#444" stroke-width="1.25" />
<line x1="677.10" y1="138.80" x2="677.10" y2="138.80" stroke="#444" stroke-width="1.25" />
<line x1="674.30" y1="138.80" x2="679.90" y2="138.80" stroke="#444" stroke-width="1.25" />
<line x1="719.90" y1="150.30" x2="719.90" y2="182.25" stroke="#444" stroke-width="1.25" />
<line x1="717.10" y1="150.30" x2="722.70" y2="150.30" stroke="#444" stroke-width="1.25" />
<line x1="717.10" y1="182.25" x2="722.70" y2="182.25" stroke="#444" stroke-width="1.25" />
<line x1="719.90" y1="151.30" x2="719.90" y2="151.30" stroke="#444" stroke-width="1.25" />
<line x1="717.10" y1="151.30" x2="722.70" y2="151.30" stroke="#444" stroke-width="1.25" />
<polygon points="475.50,81.50 472.25,87.50 478.75,87.50" fill="#fff" stroke="#111" stroke-width="1.15" stroke-linejoin="miter"/>
<polygon points="481.60,85.60 478.35,91.60 484.85,91.60" fill="#fff" stroke="#111" stroke-width="1.15" stroke-linejoin="miter"/>
<polygon points="487.60,90.90 484.35,96.90 490.85,96.90" fill="#fff" stroke="#111" stroke-width="1.15" stroke-linejoin="miter"/>
<polygon points="468.90,102.80 465.65,108.80 472.15,108.80" fill="#fff" stroke="#111" stroke-width="1.15" stroke-linejoin="miter"/>
<polygon points="463.60,125.90 460.35,131.90 466.85,131.90" fill="#fff" stroke="#111" stroke-width="1.15" stroke-linejoin="miter"/>
<polygon points="506.00,100.90 502.75,106.90 509.25,106.90" fill="#fff" stroke="#111" stroke-width="1.15" stroke-linejoin="miter"/>
<polygon points="524.50,98.15 521.25,104.15 527.75,104.15" fill="#fff" stroke="#111" stroke-width="1.15" stroke-linejoin="miter"/>
<polygon points="548.60,110.30 545.35,116.30 551.85,116.30" fill="#fff" stroke="#111" stroke-width="1.15" stroke-linejoin="miter"/>
<polygon points="591.60,111.15 588.35,117.15 594.85,117.15" fill="#fff" stroke="#111" stroke-width="1.15" stroke-linejoin="miter"/>
<polygon points="634.75,122.15 631.50,128.15 638.00,128.15" fill="#fff" stroke="#111" stroke-width="1.15" stroke-linejoin="miter"/>
<polygon points="677.10,143.30 673.85,149.30 680.35,149.30" fill="#fff" stroke="#111" stroke-width="1.15" stroke-linejoin="miter"/>
<polygon points="719.90,158.30 716.65,164.30 723.15,164.30" fill="#fff" stroke="#111" stroke-width="1.15" stroke-linejoin="miter"/>
<circle cx="463.00" cy="71.40" r="2.85" fill="#fff" stroke="#111" stroke-width="1.15"/>
<circle cx="463.20" cy="74.60" r="2.85" fill="#fff" stroke="#111" stroke-width="1.15"/>
<circle cx="463.50" cy="78.10" r="2.85" fill="#fff" stroke="#111" stroke-width="1.15"/>
<circle cx="464.00" cy="81.80" r="2.85" fill="#fff" stroke="#111" stroke-width="1.15"/>
<circle cx="468.90" cy="89.80" r="2.85" fill="#fff" stroke="#111" stroke-width="1.15"/>
<circle cx="475.10" cy="92.60" r="2.85" fill="#fff" stroke="#111" stroke-width="1.15"/>
<circle cx="481.40" cy="95.75" r="2.85" fill="#fff" stroke="#111" stroke-width="1.15"/>
<circle cx="487.60" cy="100.10" r="2.85" fill="#fff" stroke="#111" stroke-width="1.15"/>
<circle cx="506.00" cy="102.80" r="2.85" fill="#fff" stroke="#111" stroke-width="1.15"/>
<circle cx="524.50" cy="110.75" r="2.85" fill="#fff" stroke="#111" stroke-width="1.15"/>
<circle cx="548.25" cy="116.40" r="2.85" fill="#fff" stroke="#111" stroke-width="1.15"/>
<circle cx="591.25" cy="123.25" r="2.85" fill="#fff" stroke="#111" stroke-width="1.15"/>
<circle cx="634.20" cy="138.25" r="2.85" fill="#fff" stroke="#111" stroke-width="1.15"/>
<circle cx="677.10" cy="143.75" r="2.85" fill="#fff" stroke="#111" stroke-width="1.15"/>
<circle cx="719.90" cy="155.60" r="2.85" fill="#fff" stroke="#111" stroke-width="1.15"/>
<polygon points="506.00,100.90 502.75,106.90 509.25,106.90" fill="none" stroke="#111" stroke-width="1.15" stroke-linejoin="miter"/>
<path d="M464.50 116.00 L465.20 110.00 L466.50 103.00 L467.60 99.50 L470.00 95.00 L474.00 93.20 L480.00 94.20 L489.50 97.60 L506.00 100.75 L550.00 111.90 L648.00 135.10 L718.00 151.90 L720.00 152.40" fill="none" stroke="#222" stroke-width="1.15" stroke-dasharray="1.1 1.6" stroke-dashoffset="0"/>
<path d="M465.10 112.00 L465.10 125.00" fill="none" stroke="#888" stroke-width="1" stroke-dasharray="1.1 1.6" stroke-dashoffset="0"/>
<path d="M463.30 71.40 L466.00 82.00 L470.00 90.00 L475.00 94.50 L480.00 97.50 L493.25 100.75 L506.00 104.00 L547.00 114.50 L550.00 115.10 L648.00 138.90 L716.75 155.60 L720.00 156.40" fill="none" stroke="#111" stroke-width="1.15" stroke-dasharray="6.3 3" stroke-dashoffset="0"/>
</svg></body></html>
